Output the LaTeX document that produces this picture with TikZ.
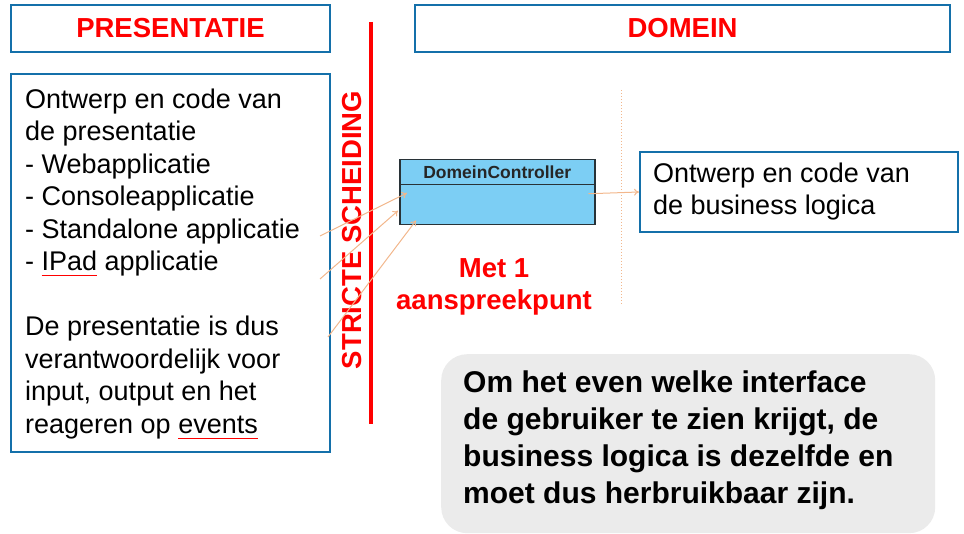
\documentclass[tikz,border=0pt]{standalone}
\usepackage{fontspec}
\setmainfont{Liberation Sans}
\usepackage{tikz}
\usetikzlibrary{positioning}
\usetikzlibrary{arrows.meta}
\usetikzlibrary{calc}
\definecolor{kaderblauw}{RGB}{20,112,170}
\definecolor{pijlkleur}{RGB}{242,183,140}
\definecolor{klasseblauw}{RGB}{124,206,244}
\definecolor{klasserand}{RGB}{40,50,55}
\definecolor{vakgrijs}{RGB}{235,235,235}
\newcommand{\spelfout}[1]{\setbox0\hbox{#1}\rlap{\textcolor{red}{\rule[-0.42ex]{\wd0}{1pt}}}\box0\relax}
\tikzstyle{kader}=[draw=kaderblauw, line width=2pt, inner sep=0pt, anchor=north west]
\tikzstyle{kop}=[font=\fontsize{27.5}{32}\selectfont\bfseries, text=red]
\tikzstyle{tekst}=[font=\fontsize{27}{32.5}\selectfont, align=left, inner sep=0pt, anchor=base west]
\tikzstyle{klasse}=[draw=klasserand, fill=klasseblauw, line width=1.5pt, minimum width=195pt, inner sep=0pt]
\tikzstyle{pijl}=[draw=pijlkleur, line width=1pt, -{To[length=5pt,width=7pt]}]

\begin{document}
\begin{tikzpicture}[x=1pt, y=-1pt]
    \useasboundingbox (0,0) rectangle (964,534);

    \node[kader, minimum width=319pt, minimum height=47pt, kop] (presKop) at (10,4) {PRESENTATIE};
    \node[kader, minimum width=535pt, minimum height=47pt, kop] (domKop) at (414,4) {DOMEIN};

    \node[kader, minimum width=319pt, minimum height=378pt] (presKader) at (10,73) {};
    \node[tekst] (presTekst) at (25,433) {Ontwerp en code van\\de presentatie\\- Webapplicatie\\- Consoleapplicatie\\- Standalone applicatie\\- \spelfout{IPad} applicatie\\[32.5pt]De presentatie is dus\\verantwoordelijk voor\\input, output en het\\reageren op \spelfout{events}};

    % scheiding
    \draw[red, line width=3.5pt] (371,22) -- (371,424);
    \node[kop, rotate=90] (scheiding) at (352,230) {STRICTE SCHEIDING};

    \node[klasse, minimum height=25pt, font=\fontsize{17.5}{18}\selectfont\bfseries, text=black!85, anchor=north west] (dcKop) at (399,159) {DomeinController};
    \node[klasse, minimum height=40pt, below=-1.5pt of dcKop] (dcLijf) {};

    \node[kop, align=center, anchor=base] (aanspreek) at (494,310) {Met 1\\aanspreekpunt};

    \draw[pijlkleur, dotted, line width=1pt] (621,90) -- (621,305);

    \node[kader, minimum width=318pt, minimum height=80pt] (logicaKader) at (639,151) {};
    \node[tekst] (logicaTekst) at (653,215) {Ontwerp en code van\\de business logica};

    \node[fill=vakgrijs, rounded corners=26pt, minimum width=494pt, minimum height=179pt, anchor=north west] (herbruik) at (441,354) {};
    \node[tekst, font=\fontsize{30}{37}\selectfont\bfseries] (herbruikTekst) at (463,503) {Om het even welke interface\\de gebruiker te zien krijgt, de\\business logica is dezelfde en\\moet dus herbruikbaar zijn.};

    \coordinate (van1) at (320,236);
    \coordinate (van2) at (320,279);
    \coordinate (van3) at (328,337);
    \path[pijl] (van1) -- ($(dcLijf.north west)+(8,9)$);
    \path[pijl] (van2) -- ($(dcLijf.west)+(-1,6)$);
    \path[pijl] (van3) -- ($(dcLijf.south west)+(17,-5)$);
    \path[pijl] ($(dcLijf.east)+(-7,-11)$) -- (logicaKader.west);

\end{tikzpicture}
\end{document}
